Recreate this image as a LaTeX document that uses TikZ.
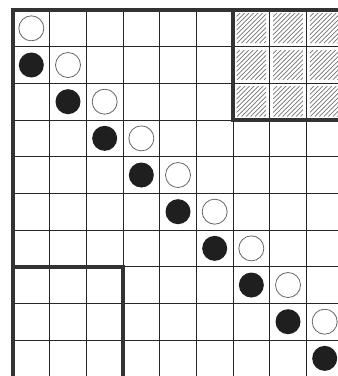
\documentclass[tikz,border=0pt]{standalone}
\begin{document}
\begin{tikzpicture}[x=1pt,y=-1pt,
  thin grid/.style={line width=1pt,draw=black!85},
  thick border/.style={line width=4pt,draw=black!80},
  whitestone/.style={circle,minimum size=25pt,inner sep=0pt,draw=black!60,line width=0.8pt,fill=white},
  blackstone/.style={circle,minimum size=25pt,inner sep=0pt,fill=black!88},
  hatchline/.style={line width=0.75pt,draw=black!55}]
\def\c{36.67}
\def\L{13}
\def\T{10}
\useasboundingbox (0,0) rectangle (338,376);
\clip (0,0) rectangle (338,376);
\fill[white] (0,0) rectangle (338,376);
% hatching in the top-right 3x3 block
\foreach \i in {0,1,2}{
  \foreach \j in {6,7,8}{
    \begin{scope}
      \pgfmathsetmacro{\xa}{\L+\j*\c+3.5}
      \pgfmathsetmacro{\ya}{\T+\i*\c+3.5}
      \pgfmathsetmacro{\xb}{\L+(\j+1)*\c-3.5}
      \pgfmathsetmacro{\yb}{\T+(\i+1)*\c-3.5}
      \clip (\xa,\ya) rectangle (\xb,\yb);
      \foreach \k in {-40,-35.5,...,40}{
        \draw[hatchline] (\xa+\k,\yb) -- (\xa+\k+40,\yb-40);
      }
    \end{scope}
  }
}
% thin grid
\foreach \i in {0,...,10}{
  \draw[thin grid] (\L,{\T+\i*\c}) -- (345,{\T+\i*\c});
}
\foreach \j in {0,...,9}{
  \draw[thin grid] ({\L+\j*\c},\T) -- ({\L+\j*\c},380);
}
% thick borders
\draw[thick border] (\L,380) -- (\L,\T) -- (345,\T);
\draw[thick border] ({\L+6*\c},\T) -- ({\L+6*\c},{\T+3*\c}) -- (345,{\T+3*\c});
\draw[thick border] (\L,{\T+7*\c}) -- ({\L+3*\c},{\T+7*\c}) -- ({\L+3*\c},380);
% stones
\node[whitestone] (w0) at ({\L+0.5*\c},{\T+0.5*\c}) {};
\foreach \r in {1,...,9}{
  \node[blackstone] (b\r) at ({\L+(\r-0.5)*\c},{\T+(\r+0.5)*\c}) {};
  \node[whitestone] (w\r) at ({\L+(\r+0.5)*\c},{\T+(\r+0.5)*\c}) {};
}
\end{tikzpicture}
\end{document}
